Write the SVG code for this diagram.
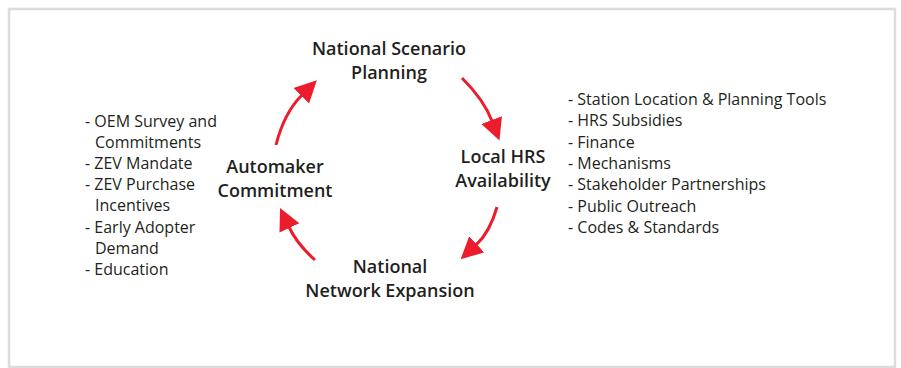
<svg xmlns="http://www.w3.org/2000/svg" width="901" height="368" viewBox="0 0 901 368">
<defs>
<style>
.frame{fill:#ffffff;stroke:#dcdcdc;stroke-width:2.5}
.title{font-family:"Open Sans",Lato,"Liberation Sans",sans-serif;font-weight:600;font-size:18px;fill:#231f20;text-anchor:middle}
.item{font-family:"Open Sans",Lato,"Liberation Sans",sans-serif;font-size:16px;fill:#231f20}
.conn{fill:none;stroke:#ec1c2d;stroke-width:3}
</style>
<marker id="head" markerUnits="userSpaceOnUse" markerWidth="24" markerHeight="24" viewBox="0 -12 24 24" refX="1" refY="0" orient="auto">
<path d="M0,-11 L22,0 L0,11 z" fill="#ec1c2d"/>
</marker>
</defs>
<rect class="frame" x="9" y="9" width="886" height="358"/>
<g id="connectors">
<path class="conn" d="M276,145 Q284,113 302,95" marker-end="url(#head)"/>
<path class="conn" d="M462,78 Q484,100 492,121" marker-end="url(#head)"/>
<path class="conn" d="M497,207 Q490,232 476,245" marker-end="url(#head)"/>
<path class="conn" d="M315,260 Q297,244 289,227" marker-end="url(#head)"/>
</g>
<g id="node-planning">
<text class="title" x="389" y="55">National Scenario</text>
<text class="title" x="389" y="78.5">Planning</text>
</g>
<g id="node-local-hrs">
<text class="title" x="503" y="163">Local HRS</text>
<text class="title" x="503" y="187">Availability</text>
</g>
<g id="node-network">
<text class="title" x="390" y="273">National</text>
<text class="title" x="390" y="297">Network Expansion</text>
</g>
<g id="node-automaker">
<text class="title" x="275" y="173">Automaker</text>
<text class="title" x="275" y="197">Commitment</text>
</g>
<g id="list-automaker">
<text class="item" x="85" y="126.5">- OEM Survey and</text>
<text class="item" x="95" y="147.7">Commitments</text>
<text class="item" x="85" y="168.9">- ZEV Mandate</text>
<text class="item" x="85" y="190.1">- ZEV Purchase</text>
<text class="item" x="95" y="211.3">Incentives</text>
<text class="item" x="85" y="232.5">- Early Adopter</text>
<text class="item" x="95" y="253.7">Demand</text>
<text class="item" x="85" y="274.9">- Education</text>
</g>
<g id="list-local-hrs">
<text class="item" x="568" y="105">- Station Location &amp; Planning Tools</text>
<text class="item" x="568" y="126.3">- HRS Subsidies</text>
<text class="item" x="568" y="147.6">- Finance</text>
<text class="item" x="568" y="168.9">- Mechanisms</text>
<text class="item" x="568" y="190.2">- Stakeholder Partnerships</text>
<text class="item" x="568" y="211.5">- Public Outreach</text>
<text class="item" x="568" y="232.8">- Codes &amp; Standards</text>
</g>
</svg>
